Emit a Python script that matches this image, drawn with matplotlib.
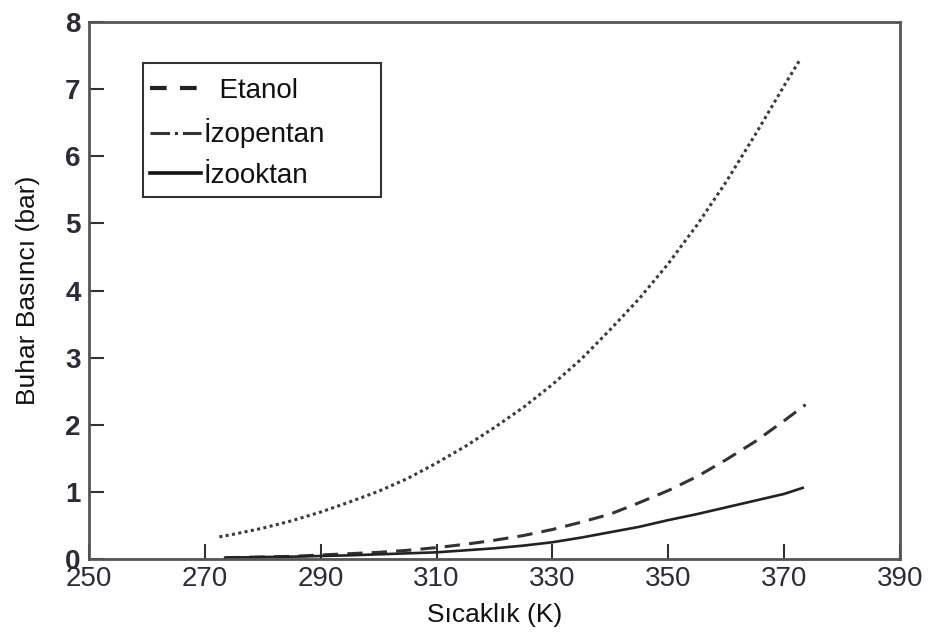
import matplotlib
matplotlib.use("Agg")
import matplotlib.pyplot as plt
from matplotlib.lines import Line2D
from matplotlib.patches import Rectangle

plt.rcParams["font.family"] = ["Liberation Sans", "DejaVu Sans"]

# values
T_izopentan = [272.5, 275, 280, 285, 290, 295, 300, 305, 310, 315, 320, 325,
               330, 335, 340, 345, 350, 355, 360, 365, 370, 372.6]
P_izopentan = [0.33, 0.37, 0.46, 0.57, 0.70, 0.85, 1.01, 1.20, 1.43, 1.68, 1.96, 2.26,
               2.60, 2.98, 3.42, 3.88, 4.40, 4.98, 5.62, 6.32, 7.05, 7.42]

T_etanol = [273.5, 280, 285, 290, 295, 300, 305, 310, 315, 320, 325,
            330, 335, 340, 345, 350, 355, 360, 365, 370, 373.7]
P_etanol = [0.02, 0.03, 0.04, 0.06, 0.08, 0.10, 0.13, 0.17, 0.22, 0.28, 0.35,
            0.44, 0.55, 0.67, 0.84, 1.02, 1.23, 1.48, 1.75, 2.06, 2.30]

T_izooktan = [273.5, 280, 285, 290, 295, 300, 305, 310, 315, 320, 325,
              330, 335, 340, 345, 350, 355, 360, 365, 370, 373.2]
P_izooktan = [0.02, 0.03, 0.035, 0.045, 0.055, 0.07, 0.085, 0.10, 0.13, 0.16, 0.20,
              0.25, 0.32, 0.40, 0.48, 0.58, 0.67, 0.77, 0.87, 0.97, 1.06]

x_ticks = [250, 270, 290, 310, 330, 350, 370, 390]
y_ticks = [0, 1, 2, 3, 4, 5, 6, 7, 8]

fig = plt.figure(figsize=(9.31, 6.37), dpi=100)
ax = fig.add_axes([0.0956, 0.1224, 0.8711, 0.8431])

ax.plot(T_izopentan, P_izopentan, color="#3a3a3a", linewidth=2.2, linestyle=(0, (1, 1.1)))
ax.plot(T_etanol, P_etanol, color="#333333", linewidth=2.2, linestyle=(0, (5, 3)))
ax.plot(T_izooktan, P_izooktan, color="#222222", linewidth=1.9, linestyle="-")

ax.set_xlim(250, 390)
ax.set_ylim(0, 8)
ax.set_xticks(x_ticks)
ax.set_yticks(y_ticks)

ax.tick_params(direction="in", length=11, width=1.5, color="#333333",
               top=False, right=False, labelsize=20, labelcolor="#2b2b3a")
ax.tick_params(axis="x", pad=5)
ax.tick_params(axis="y", pad=6)
for lab in ax.get_yticklabels():
    lab.set_fontweight("bold")

for sp in ax.spines.values():
    sp.set_color("#555555")
    sp.set_linewidth(2.0)

ax.set_xlabel("Sıcaklık (K)", fontsize=19, color="#111111", labelpad=8)
ax.set_ylabel("Buhar Basıncı (bar)", fontsize=19, color="#111111", labelpad=18)

handles = [
    Line2D([], [], color="#222222", linewidth=3.0, linestyle=(0, (4, 3.2))),
    Line2D([], [], color="#333333", linewidth=2.2, linestyle="-."),
    Line2D([], [], color="#111111", linewidth=2.6, linestyle="-"),
]
labels = ["  Etanol", "İzopentan", "İzooktan"]
leg = ax.legend(handles, labels, loc="upper left", bbox_to_anchor=(0.068, 0.906),
                fontsize=20, frameon=False, handlelength=1.85,
                handletextpad=0.1, borderpad=0.2, labelspacing=0.52,
                borderaxespad=0.0)
for t in leg.get_texts():
    t.set_color("#111111")

# legend box, wider than the entries as in the reference
ax.add_patch(Rectangle((0.0666, 0.674), 0.293, 0.25, transform=ax.transAxes,
                       fill=False, edgecolor="#333333", linewidth=1.5, zorder=5))

fig.savefig("out.png", dpi=100)
